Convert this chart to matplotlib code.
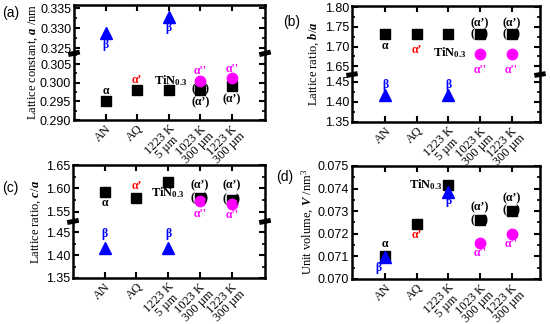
import matplotlib
matplotlib.use("Agg")
import matplotlib.pyplot as plt
from matplotlib.ticker import MultipleLocator, FixedLocator

plt.rcParams["font.family"] = ["Liberation Sans", "DejaVu Sans"]
plt.rcParams["mathtext.fontset"] = "custom"
plt.rcParams["mathtext.rm"] = "Liberation Serif"
plt.rcParams["mathtext.it"] = "Liberation Serif:italic:bold"
plt.rcParams["mathtext.bf"] = "Liberation Serif:bold"

# ===============================
# Data
# ===============================
categories = ["AN", "AQ", "1223 K\n5 µm", "1023 K\n300 µm", "1223 K\n300 µm"]
x_all = [1, 2, 3, 4, 5]
x_beta = [1, 3]
x_alpha2 = [4, 5]

a_alpha = [0.2952, 0.2981, 0.2981, 0.2981, 0.2990]
a_beta = [0.3287, 0.3329]
a_alpha2 = [0.3004, 0.3013]

b_alpha = [1.732, 1.732, 1.732, 1.732, 1.732]
b_beta = [1.418, 1.418]
b_alpha2 = [1.682, 1.682]

c_alpha = [1.593, 1.579, 1.613, 1.579, 1.576]
c_beta = [1.416, 1.416]
c_alpha2 = [1.573, 1.567]

d_alpha = [0.07103, 0.07245, 0.07416, 0.07261, 0.07303]
d_beta = [0.07097, 0.07386]
d_alpha2 = [0.07160, 0.07197]

W, H = 550, 324
BLUE = "#0000ff"
RED = "#ff0000"
MAG = "#ff00ff"
SERIF = ["Liberation Serif", "DejaVu Serif"]


def fig_rect(left, right, top, bottom):
    return [left / W, 1 - bottom / H, (right - left) / W, (bottom - top) / H]


def style_axes(ax, xlim, show_bottom=True, show_top=True):
    ax.set_xlim(*xlim)
    for s in ax.spines.values():
        s.set_linewidth(1.8)
    ax.tick_params(direction="in", which="both", left=True, right=True,
                   top=show_top, bottom=show_bottom, labelsize=9,
                   width=1.5, length=4, pad=2)
    ax.tick_params(which="minor", length=2.5, width=1.2)
    ax.xaxis.set_major_locator(FixedLocator(x_all))
    if show_bottom:
        ax.set_xticklabels(categories, rotation=45, ha="right", va="top",
                           rotation_mode="anchor", family=SERIF, fontsize=9,
                           multialignment="center", linespacing=0.85)
    else:
        ax.set_xticklabels([])


def plot_points(ax, xs, ys, kind):
    if kind == "sq":
        ax.plot(xs, ys, "s", color="black", ms=6.5, ls="none", clip_on=False, zorder=3)
    elif kind == "tri":
        ax.plot(xs, ys, "^", color=BLUE, ms=8, ls="none", clip_on=False, zorder=3)
    else:
        ax.plot(xs, ys, "o", color=MAG, ms=7.5, ls="none", clip_on=False, zorder=3)


def label(ax, x, y, s, color="black", ha="center", size=8.5):
    ax.text(x, y, s, color=color, ha=ha, va="center", family=SERIF,
            fontweight="bold", fontsize=size, zorder=4)


def bracket(ax, x, y):
    ax.text(x, y, "(   )", ha="center", va="center", family=SERIF,
            fontweight="bold", fontsize=8.5, zorder=4)


def broken_panel(fig, left, right, top, brk, bottom, up_lim, low_lim, xlim,
                 up_step, low_step):
    ax_up = fig.add_axes(fig_rect(left, right, top, brk))
    ax_lo = fig.add_axes(fig_rect(left, right, brk, bottom))
    ax_up.set_ylim(*up_lim)
    ax_lo.set_ylim(*low_lim)
    style_axes(ax_up, xlim, show_bottom=False, show_top=True)
    style_axes(ax_lo, xlim, show_bottom=True, show_top=False)
    ax_up.spines["bottom"].set_visible(False)
    ax_lo.spines["top"].set_visible(False)
    ax_up.yaxis.set_major_locator(MultipleLocator(up_step))
    ax_lo.yaxis.set_major_locator(MultipleLocator(low_step))
    ax_up.yaxis.set_minor_locator(MultipleLocator(up_step / 2))
    ax_lo.yaxis.set_minor_locator(MultipleLocator(low_step / 2))
    # break marks on both spines
    for xa in (0, 1):
        ax_lo.plot([xa - 0.03, xa + 0.03], [0.99, 1.03], color="black", lw=3.5,
                   transform=ax_lo.transAxes, clip_on=False, zorder=5,
                   solid_capstyle="butt")
    return ax_up, ax_lo


fig = plt.figure(figsize=(W / 100, H / 100), dpi=100)

# ===============================
# (a) lattice constant a
# ===============================
a_up, a_lo = broken_panel(fig, 74, 265, 5, 54, 120, (0.3235, 0.3358),
                          (0.290, 0.3077), (0, 6.05), 0.005, 0.005)
a_up.yaxis.set_major_formatter(plt.FormatStrFormatter("%.3f"))
a_lo.yaxis.set_major_formatter(plt.FormatStrFormatter("%.3f"))
plot_points(a_lo, x_all, a_alpha, "sq")
plot_points(a_up, x_beta, a_beta, "tri")
plot_points(a_lo, x_alpha2, a_alpha2, "ci")
label(a_lo, 1, 0.2979, "α")
label(a_lo, 2, 0.3006, "α’", RED)
label(a_lo, 3.05, 0.3006, r"TiN$_{\mathbf{0.3}}$", size=9)
bracket(a_lo, 4, 0.2981)
label(a_lo, 4, 0.2947, "(α’)")
label(a_lo, 5, 0.2955, "(α’)")
label(a_lo, 4, 0.3031, "α''", MAG)
label(a_lo, 5, 0.3038, "α''", MAG)
label(a_up, 1, 0.3258, "β", BLUE)
label(a_up, 3, 0.3300, "β", BLUE)
fig.text(33 / W, 1 - 62 / H, r"Lattice constant, $a$ /nm", rotation=90,
         ha="center", va="center", family=SERIF, fontsize=9)
fig.text(2 / W, 1 - 13 / H, "(a)", ha="left", va="center", fontsize=10)

# ===============================
# (b) lattice ratio b/a
# ===============================
b_up, b_lo = broken_panel(fig, 352, 540, 6, 75, 122, (1.628, 1.803),
                          (1.35, 1.467), (-0.05, 5.9), 0.05, 0.05)
b_up.yaxis.set_major_formatter(plt.FormatStrFormatter("%.2f"))
b_lo.yaxis.set_major_formatter(plt.FormatStrFormatter("%.2f"))
plot_points(b_up, x_all, b_alpha, "sq")
plot_points(b_lo, x_beta, b_beta, "tri")
plot_points(b_up, x_alpha2, b_alpha2, "ci")
label(b_up, 1, 1.702, "α")
label(b_up, 2, 1.691, "α’", RED)
label(b_up, 3.05, 1.686, r"TiN$_{\mathbf{0.3}}$", size=9)
for xx in x_alpha2:
    bracket(b_up, xx, 1.732)
    label(b_up, xx, 1.759, "(α’)")
    label(b_up, xx, 1.641, "α''", MAG)
label(b_lo, 1, 1.442, "β", BLUE)
label(b_lo, 3, 1.442, "β", BLUE)
fig.text(314 / W, 1 - 64 / H, r"Lattice ratio, $b/a$", rotation=90,
         ha="center", va="center", family=SERIF, fontsize=9)
fig.text(283 / W, 1 - 22 / H, "(b)", ha="left", va="center", fontsize=10)

# ===============================
# (c) lattice ratio c/a
# ===============================
c_up, c_lo = broken_panel(fig, 73, 265, 165, 222, 278, (1.528, 1.65),
                          (1.35, 1.473), (0, 6.05), 0.05, 0.05)
c_up.yaxis.set_major_formatter(plt.FormatStrFormatter("%.2f"))
c_lo.yaxis.set_major_formatter(plt.FormatStrFormatter("%.2f"))
plot_points(c_up, x_all, c_alpha, "sq")
plot_points(c_lo, x_beta, c_beta, "tri")
plot_points(c_up, x_alpha2, c_alpha2, "ci")
label(c_up, 1, 1.568, "α")
label(c_up, 2, 1.604, "α’", RED)
label(c_up, 3.0, 1.590, r"TiN$_{\mathbf{0.3}}$", size=9)
bracket(c_up, 4, 1.579)
bracket(c_up, 5, 1.576)
label(c_up, 4, 1.606, "(α’)")
label(c_up, 5, 1.606, "(α’)")
label(c_up, 4, 1.546, "α''", MAG)
label(c_up, 5, 1.542, "α''", MAG)
label(c_lo, 1, 1.447, "β", BLUE)
label(c_lo, 3, 1.447, "β", BLUE)
fig.text(36 / W, 1 - 222 / H, r"Lattice ratio, $c/a$", rotation=90,
         ha="center", va="center", family=SERIF, fontsize=9)
fig.text(2 / W, 1 - 188 / H, "(c)", ha="left", va="center", fontsize=10)

# ===============================
# (d) unit volume V
# ===============================
ax_d = fig.add_axes(fig_rect(352, 540, 166, 279))
style_axes(ax_d, (-0.05, 5.9))
ax_d.set_ylim(0.070, 0.075)
ax_d.yaxis.set_major_locator(MultipleLocator(0.001))
ax_d.yaxis.set_minor_locator(MultipleLocator(0.0005))
ax_d.yaxis.set_major_formatter(plt.FormatStrFormatter("%.3f"))
plot_points(ax_d, x_all, d_alpha, "sq")
plot_points(ax_d, x_beta, d_beta, "tri")
plot_points(ax_d, x_alpha2, d_alpha2, "ci")
label(ax_d, 1, 0.07156, "α")
label(ax_d, 0.8, 0.07049, "β", BLUE)
label(ax_d, 2, 0.07196, "α’", RED)
label(ax_d, 2.8, 0.07417, r"TiN$_{\mathbf{0.3}}$", ha="right", size=9)
label(ax_d, 3, 0.07344, "β", BLUE)
bracket(ax_d, 4, 0.07261)
bracket(ax_d, 5, 0.07303)
label(ax_d, 4, 0.07316, "(α’)")
label(ax_d, 5, 0.07356, "(α’)")
label(ax_d, 4, 0.07116, "α''", MAG)
label(ax_d, 5, 0.07156, "α''", MAG)
fig.text(308 / W, 1 - 222 / H, r"Unit volume, $V$ /nm$^3$", rotation=90,
         ha="center", va="center", family=SERIF, fontsize=9)
fig.text(276 / W, 1 - 177 / H, "(d)", ha="left", va="center", fontsize=10)

fig.savefig("out.png", dpi=100)
